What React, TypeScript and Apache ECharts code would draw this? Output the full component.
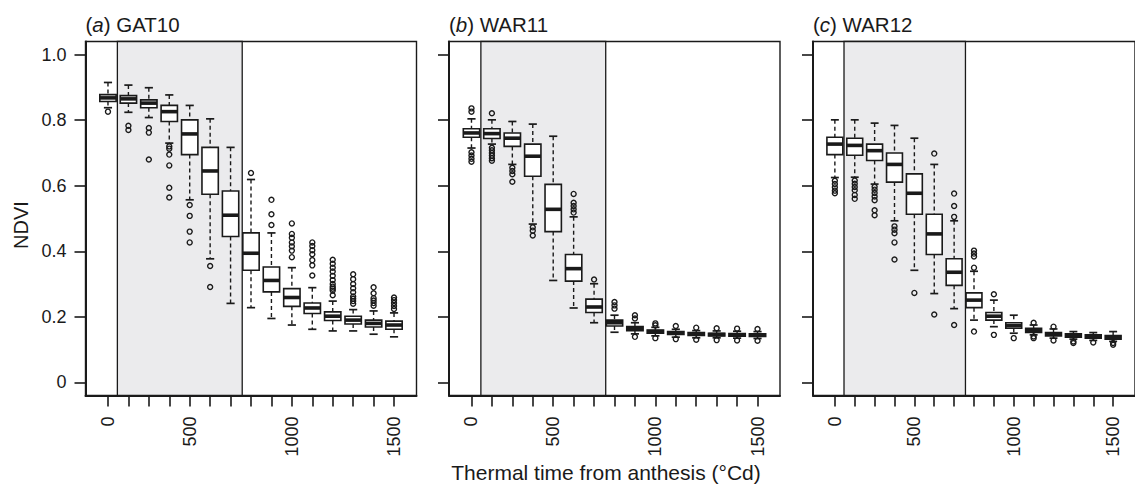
import React, { useEffect, useRef } from "react";
import * as echarts from "echarts";

// ---- data ----
const boxPositions = [0, 1, 2, 3, 4, 5, 6, 7, 8, 9, 10, 11, 12, 13, 14];
const xLabelPositions = [0, 4, 9, 14];
const xLabelTexts = ["0", "500", "1000", "1500"];
const yTickValues = [0, 0.2, 0.4, 0.6, 0.8, 1.0];
const yTickLabels = ["0", "0.2", "0.4", "0.6", "0.8", "1.0"];
const shadeRange = [0.46, 6.57];
const panelLetters = ["a", "b", "c"];
const panelNames = ["GAT10", "WAR11", "WAR12"];

// [lower whisker, Q1, median, Q3, upper whisker]
const gat10Stats = [
  [0.838, 0.857, 0.868, 0.878, 0.915],
  [0.824, 0.852, 0.865, 0.875, 0.907],
  [0.808, 0.838, 0.852, 0.862, 0.899],
  [0.73, 0.796, 0.826, 0.845, 0.877],
  [0.557, 0.695, 0.758, 0.801, 0.845],
  [0.377, 0.574, 0.645, 0.717, 0.804],
  [0.241, 0.445, 0.51, 0.584, 0.717],
  [0.228, 0.342, 0.394, 0.456, 0.619],
  [0.195, 0.276, 0.311, 0.352, 0.456],
  [0.175, 0.232, 0.259, 0.286, 0.35],
  [0.162, 0.21, 0.227, 0.242, 0.289],
  [0.157, 0.189, 0.202, 0.215, 0.248],
  [0.157, 0.178, 0.19, 0.202, 0.222],
  [0.147, 0.169, 0.18, 0.19, 0.218],
  [0.139, 0.162, 0.175, 0.187, 0.212],
];
const gat10Outliers = [
  [0.826],
  [0.783, 0.77],
  [0.776, 0.762, 0.68],
  [0.72, 0.713, 0.695, 0.662, 0.594, 0.564],
  [0.541, 0.508, 0.46, 0.427],
  [0.355, 0.291],
  [],
  [0.639],
  [0.557, 0.513, 0.48],
  [0.485, 0.453, 0.441, 0.427, 0.415, 0.402, 0.382],
  [0.427, 0.416, 0.403, 0.391, 0.373, 0.357, 0.326],
  [0.374, 0.362, 0.35, 0.338, 0.325, 0.312, 0.3, 0.292, 0.286, 0.28, 0.266],
  [0.33, 0.315, 0.3, 0.287, 0.275, 0.262, 0.255, 0.248, 0.24],
  [0.29, 0.272, 0.257, 0.25, 0.242, 0.234],
  [0.259, 0.251, 0.242, 0.233, 0.224],
];

const war11Stats = [
  [0.715, 0.748, 0.761, 0.774, 0.804],
  [0.727, 0.744, 0.759, 0.774, 0.801],
  [0.665, 0.72, 0.745, 0.761, 0.796],
  [0.483, 0.629, 0.69, 0.727, 0.788],
  [0.311, 0.46, 0.528, 0.604, 0.751],
  [0.227, 0.309, 0.347, 0.39, 0.505],
  [0.182, 0.213, 0.23, 0.254, 0.301],
  [0.153, 0.172, 0.182, 0.19, 0.205],
  [0.148, 0.158, 0.165, 0.17, 0.182],
  [0.142, 0.15, 0.155, 0.16, 0.168],
  [0.138, 0.146, 0.15, 0.155, 0.162],
  [0.136, 0.143, 0.147, 0.152, 0.158],
  [0.136, 0.142, 0.146, 0.15, 0.157],
  [0.135, 0.141, 0.145, 0.149, 0.156],
  [0.134, 0.14, 0.144, 0.148, 0.155],
];
const war11Outliers = [
  [0.836, 0.826, 0.702, 0.692, 0.682, 0.673],
  [0.821, 0.716, 0.708, 0.7, 0.692, 0.684, 0.676],
  [0.655, 0.645, 0.635, 0.612],
  [0.473, 0.463, 0.448],
  [],
  [0.575, 0.548, 0.538, 0.528, 0.518],
  [0.314],
  [0.245, 0.235, 0.225],
  [0.205, 0.195, 0.139],
  [0.18, 0.174, 0.135],
  [0.172, 0.132],
  [0.167, 0.13],
  [0.165, 0.129],
  [0.164, 0.128],
  [0.163, 0.127],
];

const war12Stats = [
  [0.625, 0.695, 0.727, 0.748, 0.801],
  [0.626, 0.693, 0.723, 0.745, 0.801],
  [0.605, 0.677, 0.707, 0.727, 0.791],
  [0.493, 0.611, 0.665, 0.7, 0.784],
  [0.342, 0.513, 0.577, 0.636, 0.745],
  [0.271, 0.39, 0.453, 0.513, 0.665],
  [0.225, 0.296, 0.336, 0.377, 0.493],
  [0.19, 0.228, 0.251, 0.273, 0.339],
  [0.17, 0.19, 0.202, 0.213, 0.251],
  [0.15, 0.165, 0.173, 0.182, 0.205],
  [0.145, 0.152, 0.158, 0.165, 0.175],
  [0.135, 0.142, 0.147, 0.152, 0.163],
  [0.132, 0.138, 0.143, 0.148, 0.155],
  [0.128, 0.135, 0.14, 0.145, 0.152],
  [0.125, 0.132, 0.137, 0.143, 0.155],
];
const war12Outliers = [
  [0.615, 0.605, 0.595, 0.585, 0.577],
  [0.616, 0.606, 0.596, 0.586, 0.572, 0.56],
  [0.597, 0.588, 0.578, 0.567, 0.556, 0.525, 0.51],
  [0.476, 0.466, 0.455, 0.427, 0.375],
  [0.273],
  [0.698, 0.207],
  [0.576, 0.538, 0.505, 0.175],
  [0.402, 0.393, 0.384, 0.35, 0.155],
  [0.269, 0.145],
  [0.135],
  [0.182, 0.14, 0.135],
  [0.17, 0.128],
  [0.125, 0.12],
  [0.122],
  [0.12, 0.115],
];

const allStats = [gat10Stats, war11Stats, war12Stats];
const allOutliers = [gat10Outliers, war11Outliers, war12Outliers];

// ---- layout / style ----
const FONT = "'Liberation Sans', Arial, Helvetica, sans-serif";
const INK = "#1a1a1a";
const SHADE = "#ebebed";
const gridLefts = [85.5, 449, 813];
const GRID_TOP = 41.5;
const GRID_W = 331;
const GRID_H = 354;

function renderBox(params: any, api: any) {
  const x = api.value(0);
  const low = api.coord([x, api.value(1)]);
  const q1 = api.coord([x, api.value(2)]);
  const med = api.coord([x, api.value(3)]);
  const q3 = api.coord([x, api.value(4)]);
  const high = api.coord([x, api.value(5)]);
  const bw = api.size([0.8, 0])[0];
  const half = bw / 2;
  const cap = bw / 4;
  const cx = med[0];
  const dash = { stroke: INK, lineWidth: 1.4, lineDash: [4, 3] };
  const solid = { stroke: INK, lineWidth: 1.7 };
  return {
    type: "group",
    children: [
      { type: "line", shape: { x1: cx, y1: high[1], x2: cx, y2: q3[1] }, style: dash },
      { type: "line", shape: { x1: cx, y1: q1[1], x2: cx, y2: low[1] }, style: dash },
      { type: "line", shape: { x1: cx - cap, y1: high[1], x2: cx + cap, y2: high[1] }, style: solid },
      { type: "line", shape: { x1: cx - cap, y1: low[1], x2: cx + cap, y2: low[1] }, style: solid },
      {
        type: "rect",
        shape: { x: cx - half, y: q3[1], width: bw, height: q1[1] - q3[1] },
        style: { fill: "#ffffff", stroke: INK, lineWidth: 1.6 },
      },
      {
        type: "line",
        shape: { x1: cx - half, y1: med[1], x2: cx + half, y2: med[1] },
        style: { stroke: INK, lineWidth: 3.6 },
      },
    ],
  };
}

function renderShade(params: any, api: any) {
  const p0 = api.coord([api.value(0), 0]);
  const p1 = api.coord([api.value(1), 0]);
  const cs = params.coordSys;
  return {
    type: "rect",
    shape: { x: p0[0], y: cs.y, width: p1[0] - p0[0], height: cs.height },
    style: { fill: SHADE, stroke: INK, lineWidth: 1.3 },
  };
}

function buildOption() {
  const grid: any[] = [];
  const xAxis: any[] = [];
  const yAxis: any[] = [];
  const series: any[] = [];
  for (let p = 0; p < 3; p++) {
    grid.push({
      left: gridLefts[p],
      top: GRID_TOP,
      width: GRID_W,
      height: GRID_H,
      show: true,
      borderColor: INK,
      borderWidth: 1.4,
      backgroundColor: "transparent",
    });
    xAxis.push({
      type: "value",
      gridIndex: p,
      min: -1.1,
      max: 15.1,
      z: 10,
      splitLine: { show: false },
      axisLine: { show: true, onZero: false, lineStyle: { color: INK, width: 2 } },
      axisTick: {
        show: true,
        customValues: boxPositions,
        length: 11,
        lineStyle: { color: INK, width: 1.6 },
      },
      axisLabel: {
        show: true,
        customValues: xLabelPositions,
        formatter: (v: number) => {
          const k = xLabelPositions.indexOf(Math.round(v));
          return k >= 0 ? xLabelTexts[k] : "";
        },
        rotate: 90,
        margin: 21,
        fontSize: 18,
        color: INK,
        fontFamily: FONT,
      },
    });
    yAxis.push({
      type: "value",
      gridIndex: p,
      min: -0.04,
      max: 1.04,
      z: 10,
      splitLine: { show: false },
      axisLine: { show: true, onZero: false, lineStyle: { color: INK, width: 2 } },
      axisTick: {
        show: true,
        customValues: yTickValues,
        length: 11,
        lineStyle: { color: INK, width: 1.6 },
      },
      axisLabel: {
        show: p === 0,
        customValues: yTickValues,
        formatter: (v: number) => {
          let k = -1;
          yTickValues.forEach((t, i) => {
            if (Math.abs(t - v) < 1e-6) k = i;
          });
          return k >= 0 ? yTickLabels[k] : "";
        },
        margin: 19,
        fontSize: 18,
        color: INK,
        fontFamily: FONT,
      },
    });
    series.push({
      type: "custom",
      xAxisIndex: p,
      yAxisIndex: p,
      z: 1,
      silent: true,
      renderItem: renderShade,
      encode: { x: [0, 1], y: 2 },
      data: [[shadeRange[0], shadeRange[1], 0]],
    });
    series.push({
      type: "custom",
      xAxisIndex: p,
      yAxisIndex: p,
      z: 3,
      silent: true,
      renderItem: renderBox,
      encode: { x: 0, y: [1, 2, 3, 4, 5] },
      data: allStats[p].map((s, i) => [boxPositions[i], ...s]),
    });
    const pts: number[][] = [];
    allOutliers[p].forEach((list, i) => list.forEach((v) => pts.push([boxPositions[i], v])));
    series.push({
      type: "scatter",
      xAxisIndex: p,
      yAxisIndex: p,
      z: 4,
      silent: true,
      symbol: "circle",
      symbolSize: 5,
      itemStyle: { color: "rgba(0,0,0,0)", borderColor: INK, borderWidth: 1.4, opacity: 1 },
      data: pts,
    });
  }

  const graphic: any[] = [];
  for (let p = 0; p < 3; p++) {
    graphic.push({
      type: "text",
      x: gridLefts[p],
      y: 24,
      style: {
        text: `{n|(}{i|${panelLetters[p]}}{n|) ${panelNames[p]}}`,
        verticalAlign: "middle",
        fill: INK,
        rich: {
          n: { fontSize: 20.5, fontFamily: FONT, fill: INK },
          i: { fontSize: 20.5, fontFamily: FONT, fontStyle: "italic", fill: INK },
        },
      },
    });
  }
  graphic.push({
    type: "text",
    x: 20.5,
    y: 225,
    rotation: Math.PI / 2,
    style: {
      text: "NDVI",
      align: "center",
      verticalAlign: "middle",
      fontSize: 20,
      fontFamily: FONT,
      fill: INK,
    },
  });
  graphic.push({
    type: "text",
    x: 606,
    y: 472,
    style: {
      text: "Thermal time from anthesis (°Cd)",
      align: "center",
      verticalAlign: "middle",
      fontSize: 21,
      fontFamily: FONT,
      fill: INK,
    },
  });

  return {
    animation: false,
    backgroundColor: "#ffffff",
    grid,
    xAxis,
    yAxis,
    series,
    graphic,
  };
}

export default function App() {
  const ref = useRef<HTMLDivElement>(null);
  useEffect(() => {
    document.body.style.margin = "0";
    if (!ref.current) return;
    const chart = echarts.init(ref.current, undefined, { renderer: "svg" });
    chart.setOption(buildOption() as any);
    return () => chart.dispose();
  }, []);
  return <div ref={ref} style={{ width: 1135, height: 484 }} />;
}
